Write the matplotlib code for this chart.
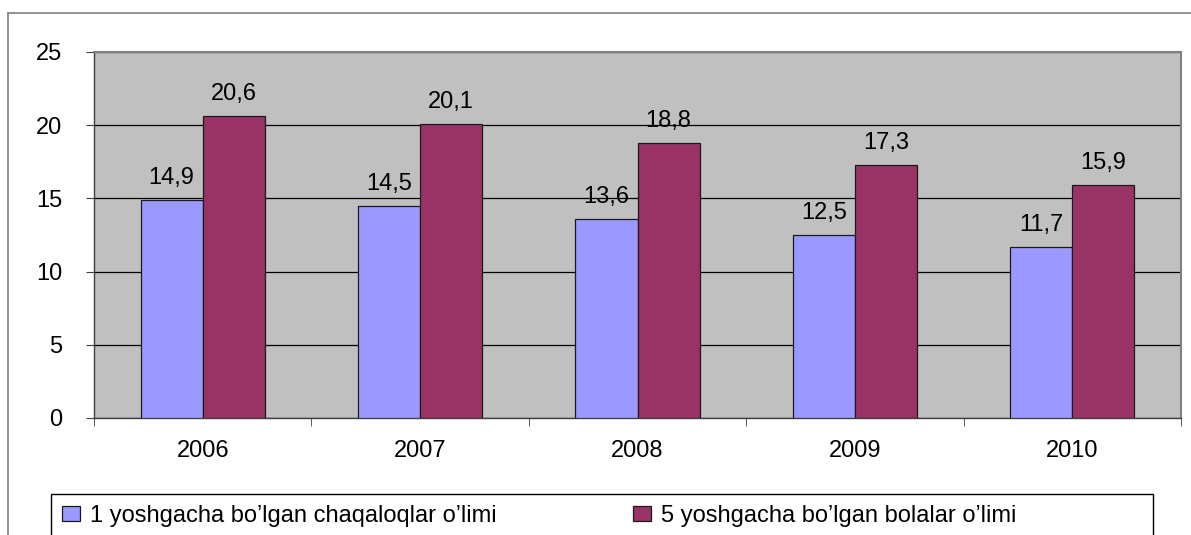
import matplotlib
matplotlib.use("Agg")
import matplotlib.pyplot as plt
import numpy as np
from matplotlib.lines import Line2D
from matplotlib.patches import Rectangle

years = ["2006", "2007", "2008", "2009", "2010"]
infant = [14.9, 14.5, 13.6, 12.5, 11.7]
under5 = [20.6, 20.1, 18.8, 17.3, 15.9]
series_names = ["1 yoshgacha bo\u2019lgan chaqaloqlar o\u2019limi",
                "5 yoshgacha bo\u2019lgan bolalar o\u2019limi"]
yticks = [0, 5, 10, 15, 20, 25]

plt.rcParams['font.family'] = ['Liberation Sans', 'DejaVu Sans']
FS = 17
W, H = 1191, 535
fig = plt.figure(figsize=(W/100, H/100), dpi=100)
fig.patch.set_facecolor('white')

ax = fig.add_axes([94/W, 1-418/H, (1181-94)/W, (418-52)/H])
ax.set_facecolor('#C0C0C0')
x = np.arange(len(years))
bw = 0.2857
b1 = ax.bar(x - bw/2, infant, bw, color='#9999FF', edgecolor='#1a1a1a', linewidth=0.9, zorder=3)
b2 = ax.bar(x + bw/2, under5, bw, color='#993366', edgecolor='#1a1a1a', linewidth=0.9, zorder=3)
ax.bar_label(b1, labels=[f"{v:.1f}".replace('.', ',') for v in infant], padding=8, fontsize=FS)
ax.bar_label(b2, labels=[f"{v:.1f}".replace('.', ',') for v in under5], padding=8, fontsize=FS)

ax.set_xlim(-0.5, len(years) - 0.5)
ax.set_ylim(0, 25)
ax.set_yticks(yticks)
ax.set_yticklabels([str(t) for t in yticks], fontsize=FS)
ax.yaxis.grid(True, color='black', linewidth=0.9, zorder=1)
ax.set_axisbelow(True)
ax.set_xticks(x)
ax.set_xticklabels(years, fontsize=FS)
ax.set_xticks(np.arange(-0.5, len(years)), minor=True)
ax.tick_params(axis='x', which='major', length=0, pad=16)
ax.tick_params(axis='x', which='minor', length=5.8, color='#404040', direction='out')
ax.tick_params(axis='y', length=5.8, color='#404040', direction='out', pad=17)
for s in ['left', 'bottom']:
    ax.spines[s].set_color('#404040')
    ax.spines[s].set_linewidth(1)
for s in ['top', 'right']:
    ax.spines[s].set_color('#808080')
    ax.spines[s].set_linewidth(1.5)

# outer chart frame (top and left edges visible)
fig.add_artist(Line2D([8/W, 1.0], [1-13/H, 1-13/H], color='#808080', lw=1.2, transform=fig.transFigure))
fig.add_artist(Line2D([8/W, 8/W], [0, 1-13/H], color='#808080', lw=1.2, transform=fig.transFigure))

# legend frame
fig.add_artist(Rectangle((51/W, 1-545/H), (1153-51)/W, (545-494)/H, transform=fig.transFigure,
                         facecolor='white', edgecolor='black', linewidth=1, zorder=1))
leg = fig.legend(handles=[b1, b2], labels=series_names, loc='upper left',
                 bbox_to_anchor=(62/W, 1-505/H), ncol=2, fontsize=FS, frameon=False,
                 handlelength=0.75, handleheight=0.6, handletextpad=0.42,
                 columnspacing=5.8, borderpad=0, borderaxespad=0)
leg.set_zorder(2)

fig.savefig("out.png", dpi=100)
